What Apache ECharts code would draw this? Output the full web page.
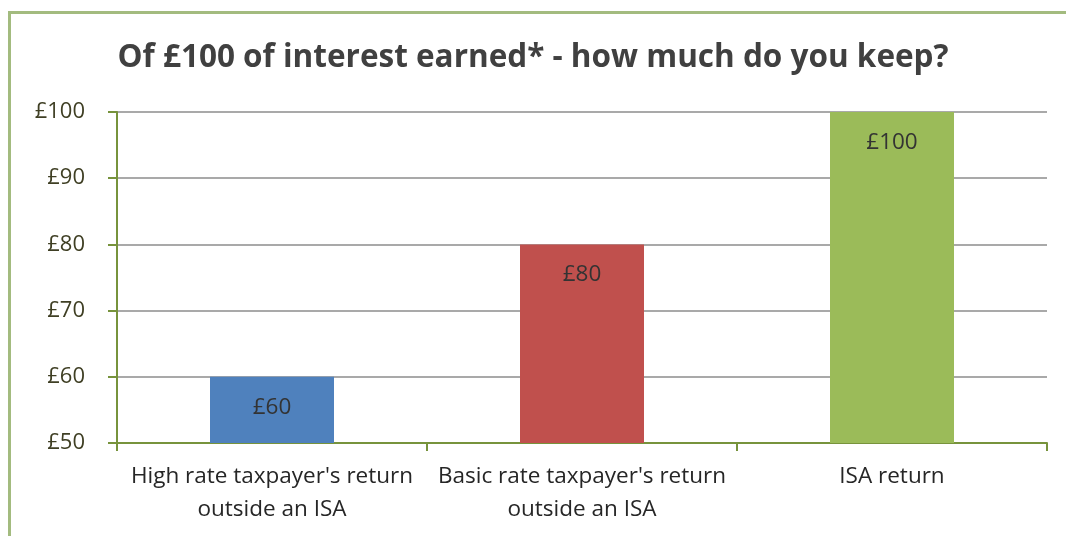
<!DOCTYPE html>
<html>
<head>
<meta charset="utf-8">
<script src="https://cdn.jsdelivr.net/npm/echarts@6/dist/echarts.min.js"></script>
<style>
  html, body { margin: 0; padding: 0; background: #fff; overflow: hidden; }
  #container { width: 1066px; height: 536px; }
</style>
</head>
<body>
<div id="container"></div>
<script>
// chart data
var categories = ["High rate taxpayer's return\noutside an ISA", "Basic rate taxpayer's return\noutside an ISA", "ISA return"];
var values = [60, 80, 100];
var barColors = ['#4f81bd', '#c0504d', '#9bbb59'];
var yTicks = [50, 60, 70, 80, 90, 100];

var myChart = echarts.init(document.getElementById('container'));
var font = '"Open Sans", "Noto Sans", sans-serif';

var option = {
	animation: false,
	backgroundColor: '#fff',
	title: {
		text: 'Of £100 of interest earned* - how much do you keep?',
		left: 'center',
		top: 37,
		textStyle: { fontFamily: font, fontSize: 31.5, fontWeight: 'bold', color: '#404040' }
	},
	graphic: [{
		type: 'rect',
		shape: { x: 9.5, y: 12.5, width: 1100, height: 600 },
		style: { fill: 'none', stroke: '#a3bb7f', lineWidth: 3 },
		silent: true
	}],
	grid: { left: 117, right: 19, top: 112, bottom: 93 },
	xAxis: {
		type: 'category',
		data: categories,
		axisLine: { lineStyle: { color: '#77933c', width: 2 } },
		axisTick: { show: true, length: 8, alignWithLabel: false, lineStyle: { color: '#77933c', width: 2 } },
		axisLabel: { fontFamily: font, fontSize: 22.5, color: '#262626', lineHeight: 33, margin: 17, interval: 0 }
	},
	yAxis: {
		type: 'value',
		min: yTicks[0],
		max: yTicks[yTicks.length - 1],
		interval: 10,
		axisLine: { show: true, lineStyle: { color: '#77933c', width: 2 } },
		axisTick: { show: true, length: 9, lineStyle: { color: '#77933c', width: 2 } },
		splitLine: { lineStyle: { color: '#8c8c8c', width: 1.5 } },
		axisLabel: {
			fontFamily: font, fontSize: 22, color: '#3f3f24', margin: 32,
			formatter: function(v) { return '£' + v; }
		}
	},
	series: [{
		type: 'bar',
		barWidth: '40%',
		data: values.map(function(v, i) {
			return { value: v, itemStyle: { color: barColors[i] } };
		}),
		label: {
			show: true,
			position: 'insideTop',
			distance: 19,
			fontFamily: font,
			fontSize: 22.5,
			color: '#333',
			formatter: function(p) { return '£' + p.value; }
		}
	}]
};
myChart.setOption(option);
</script>
</body>
</html>
